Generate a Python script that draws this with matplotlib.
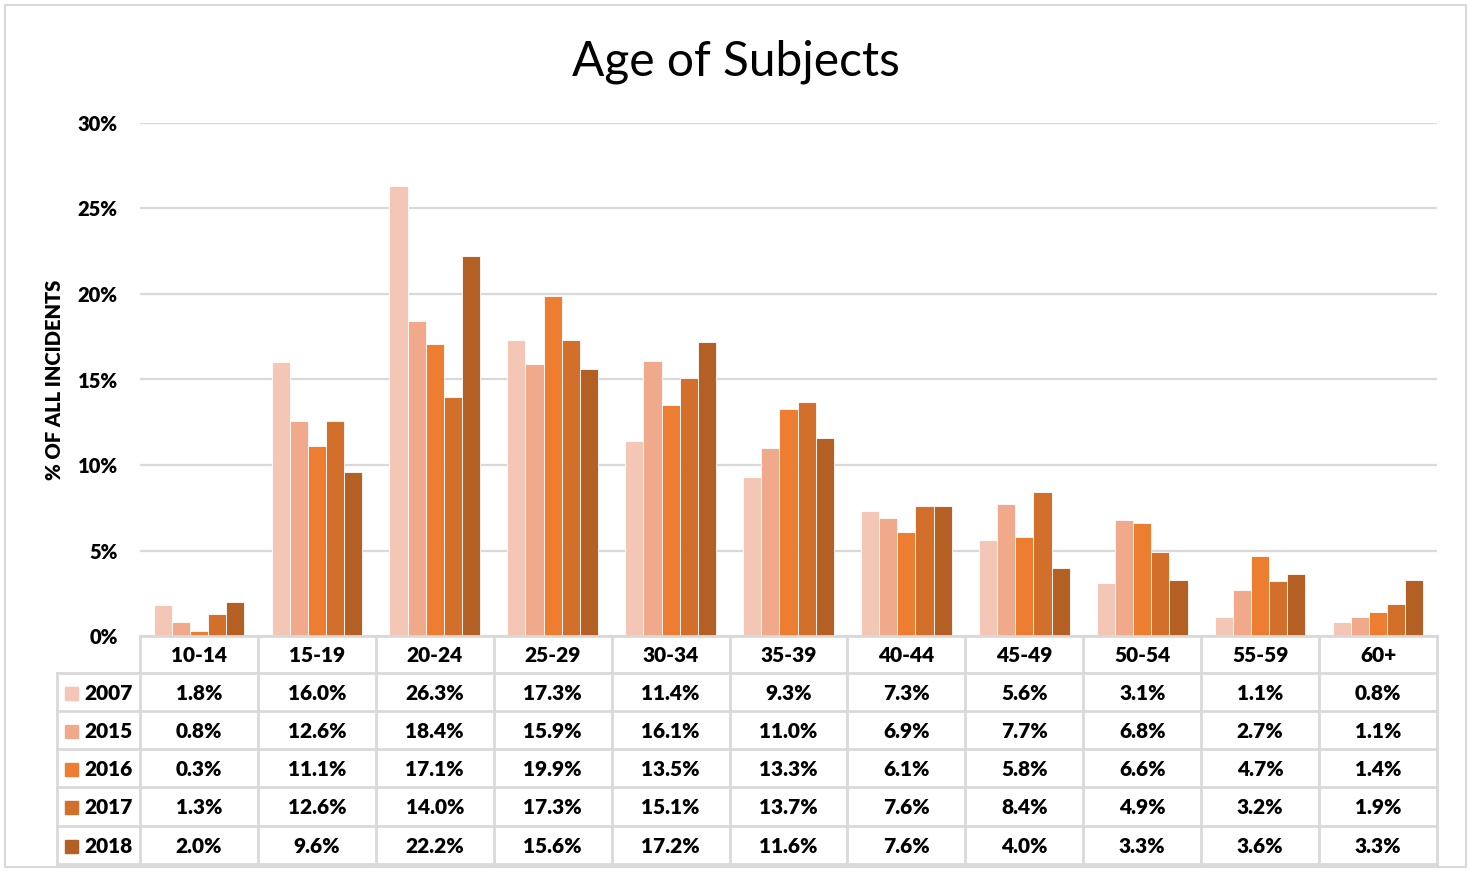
import matplotlib
matplotlib.use("Agg")
import matplotlib.pyplot as plt
from matplotlib import font_manager as fm
from matplotlib.patches import Rectangle

plt.rcParams['font.family'] = ['Lato', 'DejaVu Sans']


def lato_file(names):
    for nm in names:
        for f in fm.fontManager.ttflist:
            if f.fname.endswith(nm):
                return f.fname
    return None


_bold_path = lato_file(["Lato-ExtraBold.ttf", "Lato-Heavy.ttf", "Lato-Bold.ttf"])
if _bold_path:
    BOLD = lambda size: fm.FontProperties(fname=_bold_path, size=size)
else:
    BOLD = lambda size: fm.FontProperties(family="DejaVu Sans", weight="bold", size=size)

age_groups = ["10-14", "15-19", "20-24", "25-29", "30-34", "35-39",
              "40-44", "45-49", "50-54", "55-59", "60+"]
years = ["2007", "2015", "2016", "2017", "2018"]
pct_2007 = [1.8, 16.0, 26.3, 17.3, 11.4, 9.3, 7.3, 5.6, 3.1, 1.1, 0.8]
pct_2015 = [0.8, 12.6, 18.4, 15.9, 16.1, 11.0, 6.9, 7.7, 6.8, 2.7, 1.1]
pct_2016 = [0.3, 11.1, 17.1, 19.9, 13.5, 13.3, 6.1, 5.8, 6.6, 4.7, 1.4]
pct_2017 = [1.3, 12.6, 14.0, 17.3, 15.1, 13.7, 7.6, 8.4, 4.9, 3.2, 1.9]
pct_2018 = [2.0, 9.6, 22.2, 15.6, 17.2, 11.6, 7.6, 4.0, 3.3, 3.6, 3.3]
series = [pct_2007, pct_2015, pct_2016, pct_2017, pct_2018]
colors = ["#F4C6B6", "#F0A98B", "#ED7D31", "#D16F2B", "#B45F23"]
y_ticks = [0, 5, 10, 15, 20, 25, 30]

W, H = 1472, 871
fig = plt.figure(figsize=(W / 100, H / 100), dpi=100)

# plot area in pixel coordinates
px_l, px_r, px_t, px_b = 140, 1437, 123, 636
ax = fig.add_axes([px_l / W, 1 - px_b / H, (px_r - px_l) / W, (px_b - px_t) / H])
n = len(age_groups)
k = len(years)
bar_w = 1.0 / (k + 1.5)
for i, (vals, c) in enumerate(zip(series, colors)):
    xs = [g + 0.5 + (i - (k - 1) / 2) * bar_w for g in range(n)]
    ax.bar(xs, vals, width=bar_w, color=c, edgecolor="white", linewidth=0.6, zorder=3)
ax.set_xlim(0, n)
ax.set_ylim(0, 30)
ax.set_yticks(y_ticks)
ax.set_yticklabels([f"{t}%" for t in y_ticks])
for lab in ax.get_yticklabels():
    lab.set_fontproperties(BOLD(14.5))
ax.tick_params(axis="y", length=0, pad=16)
ax.set_xticks([])
ax.grid(axis="y", color="#D9D9D9", linewidth=1.6, zorder=0)
for s in ax.spines.values():
    s.set_visible(False)

# overlay in pixel coordinates for the data table and frame
ov = fig.add_axes([0, 0, 1, 1], zorder=5)
ov.set_xlim(0, W)
ov.set_ylim(H, 0)
ov.axis("off")
ov.patch.set_alpha(0)

ov.add_patch(Rectangle((5, 5), 1461, 862, fill=False, edgecolor="#D9D9D9", linewidth=1.5))
ov.text(736, 62, "Age of Subjects", ha="center", va="center", fontsize=34.5)
ov.text(55, 380, "% OF ALL INCIDENTS", ha="center", va="center", rotation=90,
        fontproperties=BOLD(14.5))

grid_c = "#D9D9D9"
grid_lw = 2.0
col_w = (px_r - px_l) / n
rows_y = [636, 673, 711, 749, 787, 826, 864]
left_x = 57

# horizontal table lines
ov.plot([px_l, px_r], [rows_y[0]] * 2, color=grid_c, lw=grid_lw)
for y in rows_y[1:]:
    ov.plot([left_x, px_r], [y, y], color=grid_c, lw=grid_lw)
# vertical table lines
for g in range(n + 1):
    x = px_l + g * col_w
    ov.plot([x, x], [rows_y[0], rows_y[-1]], color=grid_c, lw=grid_lw)
ov.plot([left_x, left_x], [rows_y[1], rows_y[-1]], color=grid_c, lw=grid_lw)

# header labels
for g, lab in enumerate(age_groups):
    ov.text(px_l + (g + 0.5) * col_w, (rows_y[0] + rows_y[1]) / 2 + 1, lab,
            ha="center", va="center", fontproperties=BOLD(15))

# data rows with legend keys
for r, (yr, vals, c) in enumerate(zip(years, series, colors)):
    yc = (rows_y[r + 1] + rows_y[r + 2]) / 2 + 1
    ov.add_patch(Rectangle((65, yc - 6.5), 13, 13, color=c))
    ov.text(133, yc, yr, ha="right", va="center", fontproperties=BOLD(15))
    for g, v in enumerate(vals):
        ov.text(px_l + (g + 0.5) * col_w, yc, f"{v:.1f}%",
                ha="center", va="center", fontproperties=BOLD(15))

fig.savefig("out.png", dpi=100, facecolor="white")
